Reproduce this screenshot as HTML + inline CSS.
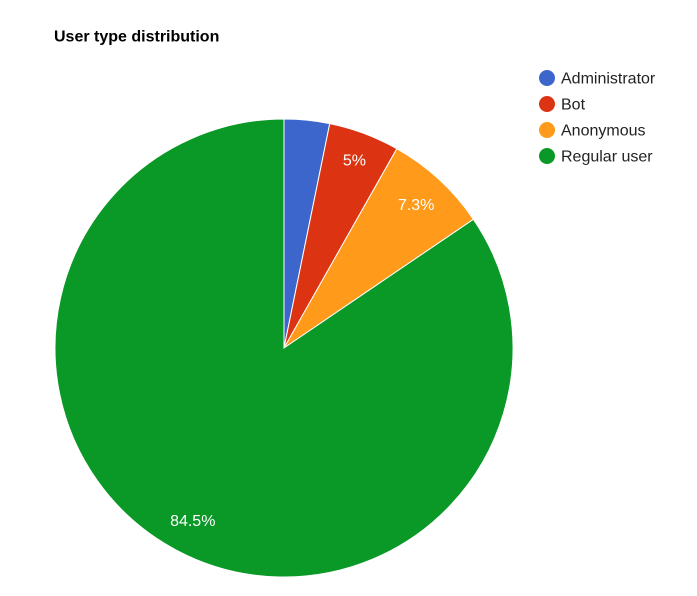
<!DOCTYPE html>
<html>
<head>
<meta charset="utf-8">
<style>
html,body{margin:0;padding:0;background:#fff;width:697px;height:596px;overflow:hidden}
svg{display:block;font-family:"Liberation Sans",Arial,sans-serif}
</style>
</head>
<body>
<svg id="chart" width="697" height="596" viewBox="0 0 697 596" xmlns="http://www.w3.org/2000/svg">
  <rect width="697" height="596" fill="#ffffff"/>
  <text x="54" y="41.5" font-size="16" font-weight="bold" fill="#000000">User type distribution</text>
  <g id="slices"></g>
  <g id="labels"></g>
  <g id="legend"></g>
</svg>
<script>
const categories = ['Administrator', 'Bot', 'Anonymous', 'Regular user'];
const values = [3.2, 5, 7.3, 84.5];
const printedLabels = ['', '5%', '7.3%', '84.5%'];
const colors = ['#3c66cb', '#dc3412', '#ff9a1a', '#0a9827'];

const NS = 'http://www.w3.org/2000/svg';
const cx = 284, cy = 348, radius = 229;
const total = values.reduce(function (a, b) { return a + b; }, 0);
const slicesG = document.getElementById('slices');
const labelsG = document.getElementById('labels');
const legendG = document.getElementById('legend');

function angleOf(v) { return v / total * Math.PI * 2; }
function px(r, a) { return cx + r * Math.sin(a); }
function py(r, a) { return cy - r * Math.cos(a); }
function labelRadiusFor(v) { return v / total < 0.06 ? 201 : 195; }

let running = 0;
values.forEach(function (v, i) {
  const a0 = angleOf(running);
  const a1 = angleOf(running + v);
  const large = (a1 - a0) > Math.PI ? 1 : 0;
  const slice = document.createElementNS(NS, 'path');
  slice.setAttribute('d', 'M' + cx + ' ' + cy + 'L' + px(radius, a0) + ' ' + py(radius, a0) +
    'A' + radius + ' ' + radius + ' 0 ' + large + ' 1 ' + px(radius, a1) + ' ' + py(radius, a1) + 'Z');
  slice.setAttribute('fill', colors[i]);
  slice.setAttribute('stroke', '#ffffff');
  slice.setAttribute('stroke-width', '1');
  
  
  slicesG.appendChild(slice);

  if (printedLabels[i]) {
    const mid = (a0 + a1) / 2;
    const r = labelRadiusFor(v);
    const t = document.createElementNS(NS, 'text');
    t.setAttribute('x', px(r, mid));
    t.setAttribute('y', py(r, mid) + 5.5);
    t.setAttribute('text-anchor', 'middle');
    t.setAttribute('font-size', '16');
    t.setAttribute('fill', '#ffffff');
    
    
    t.textContent = printedLabels[i];
    labelsG.appendChild(t);
  }

  const dot = document.createElementNS(NS, 'circle');
  dot.setAttribute('cx', 547);
  dot.setAttribute('cy', 78 + i * 26);
  dot.setAttribute('r', 8);
  dot.setAttribute('fill', colors[i]);
  
  
  legendG.appendChild(dot);

  const lt = document.createElementNS(NS, 'text');
  lt.setAttribute('x', 561);
  lt.setAttribute('y', 83.5 + i * 26);
  lt.setAttribute('font-size', '16');
  lt.setAttribute('fill', '#222222');
  
  
  lt.textContent = categories[i];
  legendG.appendChild(lt);

  running += v;
});
</script>
</body>
</html>
